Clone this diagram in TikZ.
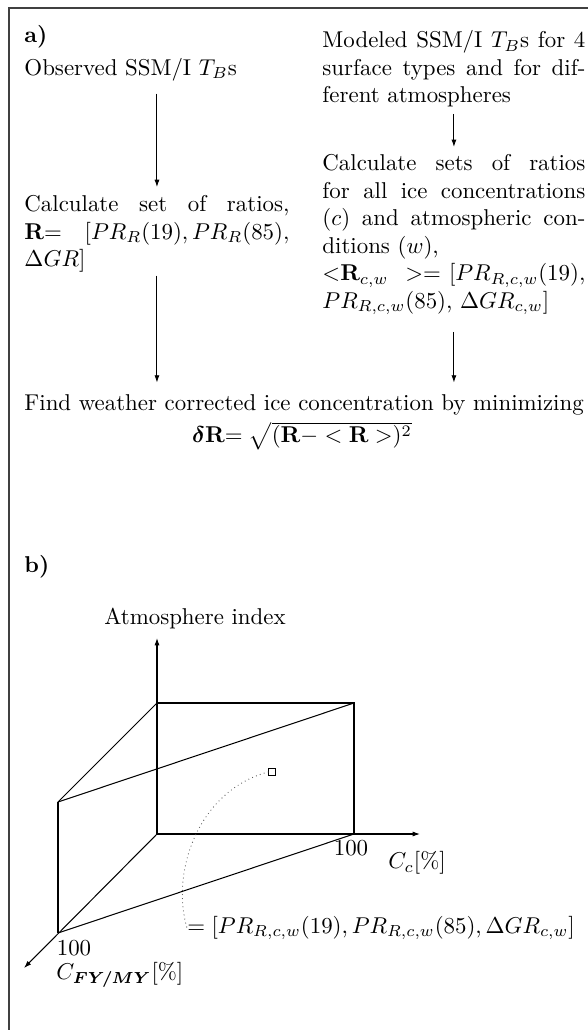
\documentclass[tikz,border=0pt]{standalone}
\usepackage{bm}
\usetikzlibrary{arrows.meta}
\begin{document}
\begin{tikzpicture}[x=0.437pt,y=-0.437pt,
  txt/.style={inner sep=0pt, font=\fontsize{10}{12}\selectfont},
  blk/.style={txt, text width=#1, align=justify, anchor=north west},
  arr/.style={-{Latex[length=3.2pt,width=2.2pt]}, line width=0.4pt},
  edge3d/.style={line width=0.45pt},
  dots/.style={line width=0.5pt, line cap=round, dash pattern=on 0pt off 1.8pt, black!70},
  frame/.style={line width=0.9pt, black!75}]
\useasboundingbox (0,0) rectangle (588,1030);
\fill[white] (0,0) rectangle (588,1030);
\draw[frame] (588,8) -- (9,8) -- (9,1030);

% ---------- part a ----------
\node[txt, anchor=base west] (la) at (24,42.5) {\textbf{a)}};
\node[txt, anchor=base west] (obs) at (24,75.5) {\strut Observed SSM/I $T_B$s};
\node[blk=114.9pt] (mod) at (322,28.3) {\strut Modeled SSM/I $T_B$s for 4\linebreak surface types and for dif-\linebreak ferent atmospheres\strut};
\node[blk=114.9pt] (calcR) at (322,151.3) {\strut Calculate sets of ratios\linebreak for all ice concentrations\linebreak ($c$) and atmospheric con-\linebreak ditions ($w$),\\ ${<}\mathbf{R}_{c,w}\ >=[PR_{R,c,w}(19),$\linebreak $PR_{R,c,w}(85)$, $\Delta GR_{c,w}]$\strut};
\node[blk=115.8pt] (calcL) at (24,192.3) {\strut Calculate set of ratios,\linebreak \textbf{R}= $[PR_R(19), PR_R(85),$\linebreak $\Delta GR]$\strut};
\node[txt, anchor=base west] (find) at (24,410.5) {\rule{0pt}{8.4pt}Find weather corrected ice concentration by minimizing};
\node[txt, anchor=base] (dR) at (302,443) {$\bm{\delta}\mathbf{R}{=}\;\sqrt{(\mathbf{R}{-}<\mathbf{R}>)^2}$};

\draw[arr, shorten <=4.1pt, shorten >=2.3pt] (obs.south -| calcL.north) -- (calcL.north);
\draw[arr, shorten >=3.6pt] (calcL.south) -- (calcL.south |- find.north);
\draw[arr, shorten <=1pt, shorten >=1.9pt] (mod.south) -- (calcR.north);
\draw[arr, shorten <=6.5pt, shorten >=3.6pt] (calcR.south) -- (calcR.south |- find.north);

% ---------- part b ----------
\node[txt, anchor=base west] (lb) at (24,572.5) {\textbf{b)}};
\node[txt, anchor=base] (atm) at (195,624) {Atmosphere index};

\coordinate (O) at (157,834);
\coordinate (Ztip) at (157,638);
\coordinate (Xtip) at (420,834);
\coordinate (Ytip) at (24,968);
\coordinate (B1) at (157,703);
\coordinate (B2) at (354,703);
\coordinate (B3) at (354,834);
\coordinate (F1) at (58,802);
\coordinate (F2) at (58,933);

\draw[arr, edge3d] (O) -- (Ztip);
\draw[arr, edge3d] (O) -- (Xtip);
\draw[arr, edge3d] (O) -- (Ytip);
\draw[edge3d] (B1) -- (B2) -- (B3);
\draw[edge3d] (F1) -- (B1);
\draw[edge3d] (F1) -- (B2);
\draw[edge3d] (F2) -- (B3);
\draw[edge3d] (F1) -- (F2);

\node[draw, line width=0.4pt, inner sep=0pt, minimum size=3pt] (sq) at (272,772) {};
\node[txt, anchor=west] (eq) at (187,928) {$=[PR_{R,c,w}(19), PR_{R,c,w}(85), \Delta GR_{c,w}]$};
\draw[dots] (sq.west) .. controls (200,790) and (170,870) .. (eq.west);

\node[txt] (hx) at (351,848) {100};
\node[txt] (cc) at (417,863) {$C_c[\%]$};
\node[txt] (hy) at (74,948) {100};
\node[txt, anchor=west] (cfy) at (56,975) {$C_{\bm{FY/MY}}[\%]$};
\end{tikzpicture}
\end{document}
